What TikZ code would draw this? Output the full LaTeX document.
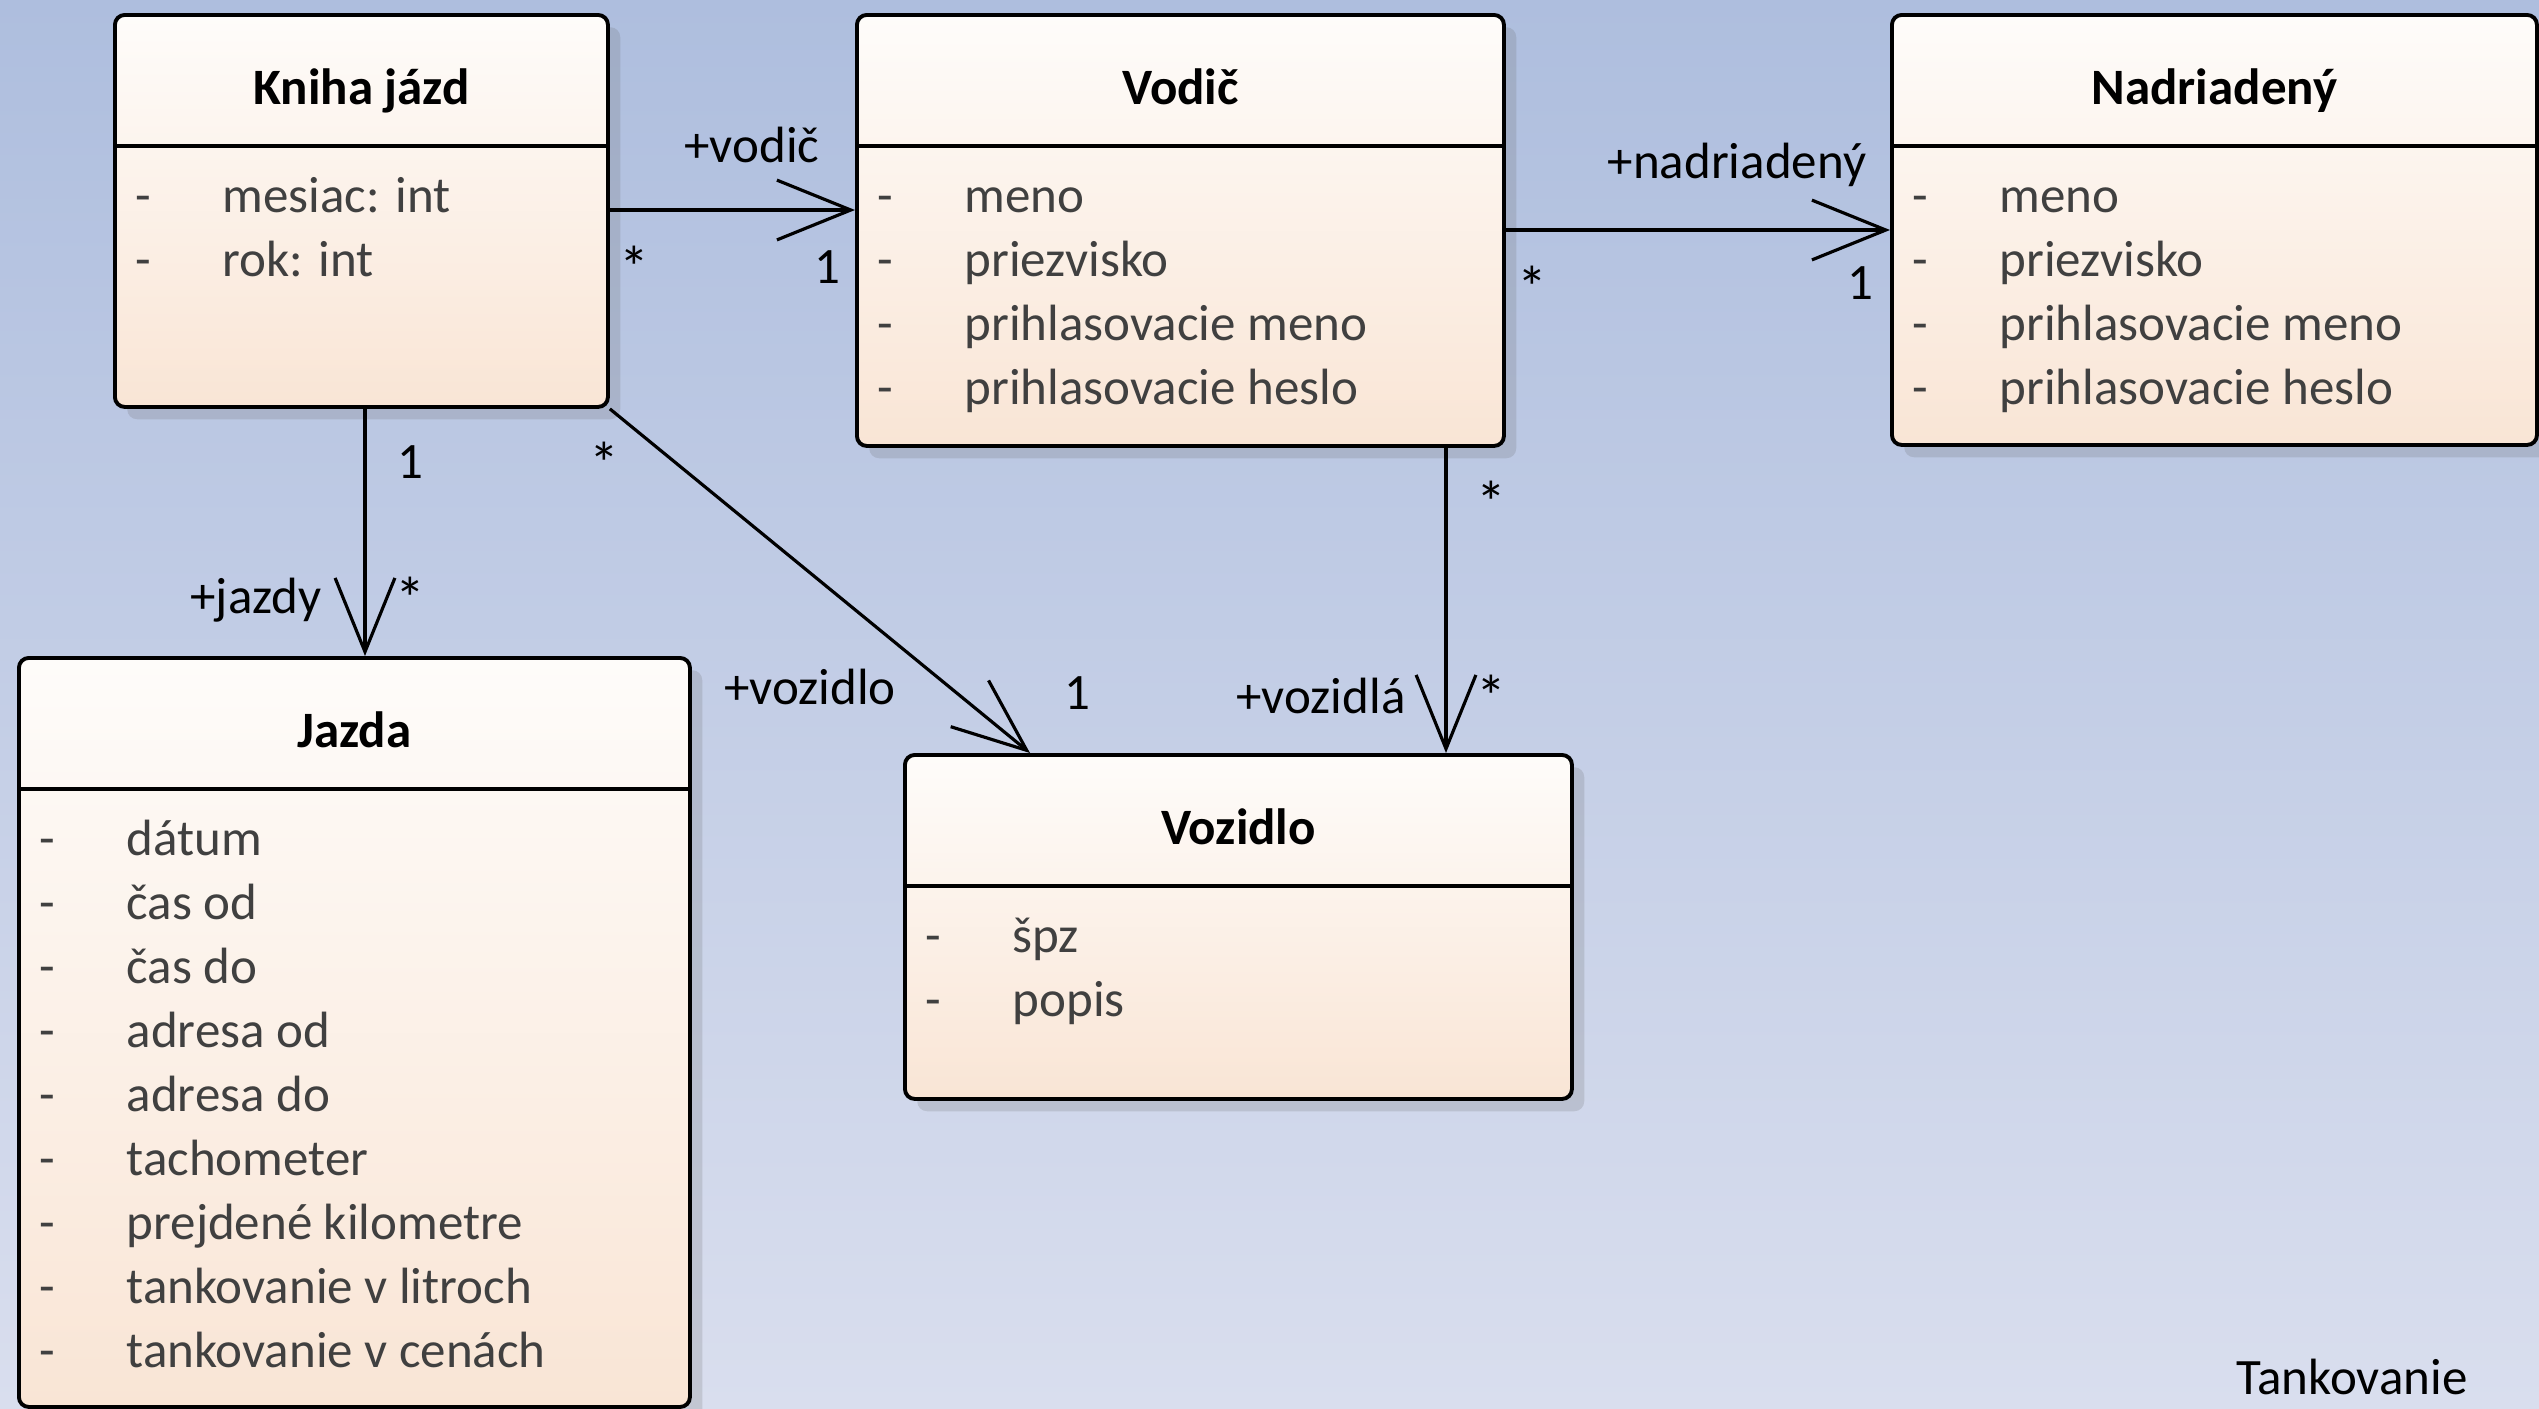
\documentclass[tikz,border=0pt]{standalone}
\usepackage{fontspec}
\setmainfont{Carlito}
\usetikzlibrary{arrows.meta,shadows,calc}
\definecolor{bgtop}{RGB}{174,190,222}
\definecolor{bgbot}{RGB}{217,222,238}
\definecolor{boxtop}{RGB}{254,252,250}
\definecolor{boxbot}{RGB}{249,229,213}
\definecolor{attrgray}{RGB}{64,64,64}
\tikzset{
  x=0.01cm, y=-0.01cm,
  classbox/.style={draw=black, line width=1.1pt, rounded corners=2.8pt,
    top color=boxtop, bottom color=boxbot, inner sep=0pt, anchor=north west,
    drop shadow={shadow xshift=3.5pt, shadow yshift=-3.5pt, opacity=0.2, fill=black!60}},
  titletext/.style={font=\fontsize{14.5}{17}\selectfont\bfseries, text=black, anchor=base, inner sep=0pt},
  attrtext/.style={font=\fontsize{14.5}{17}\selectfont, text=attrgray, anchor=base west, inner sep=0pt},
  dashtext/.style={font=\fontsize{14.5}{17}\selectfont, text=attrgray, anchor=base, inner sep=0pt},
  assoc/.style={line width=0.9pt, -{Straight Barb[length=21pt,width=17pt,line width=0.9pt]}},
  rolelabel/.style={font=\fontsize{14.5}{17}\selectfont, text=black, inner sep=0pt},
  starlabel/.style={font=\fontsize{17}{19}\selectfont, text=black, inner sep=0pt, yshift=-2.8pt},
}
\newcommand\umlclass[7]{%
  \node[classbox, minimum width=#4*0.01cm, minimum height=#5*0.01cm] (#1) at (#2,#3) {};
  \draw[line width=1.1pt] ($(#1.north west)+(0,133)$) coordinate (#1-dl) -- ($(#1.north east)+(0,133)$) coordinate (#1-dr);
  \node[titletext] (#1-title) at ($(#1.north)+(0,91)$) {#6};
  \foreach \a [count=\i] in {#7} {
    \node[dashtext] (#1-d\i) at ($(#1.north west)+(30,{199+64*(\i-1)})$) {-};
    \node[attrtext] (#1-a\i) at ($(#1.north west)+(109,{199+64*(\i-1)})$) {\a};
  }%
}
\begin{document}
\begin{tikzpicture}
\useasboundingbox (0,0) rectangle (2539,1408);
\fill[top color=bgtop, bottom color=bgbot] (0,0) rectangle (2539,1408);

\umlclass{kniha}{113}{13}{493}{392}{Kniha jázd}{mesiac: int, rok: int}
\umlclass{vodic}{855}{13}{647}{431}{Vodič}{meno, priezvisko, prihlasovacie meno, prihlasovacie heslo}
\umlclass{nadr}{1890}{13}{645}{430}{Nadriadený}{meno, priezvisko, prihlasovacie meno, prihlasovacie heslo}
\umlclass{jazda}{17}{656}{671}{749}{Jazda}{dátum, čas od, čas do, adresa od, adresa do, tachometer, prejdené kilometre, tankovanie v litroch, tankovanie v cenách}
\umlclass{vozidlo}{903}{753}{667}{344}{Vozidlo}{špz, popis}

% connectors
\draw[assoc] ($(kniha.north east)+(0,197)$) -- ($(vodic.north west)+(0,197)$);
\draw[assoc] ($(vodic.north east)+(0,217)$) -- ($(nadr.north west)+(0,217)$);
\draw[assoc] ($(kniha.south west)+(252,0)$) coordinate (kj) -- (kj |- jazda.north);
\draw[assoc] (kniha.south east) -- ($(vozidlo.north west)+(127,0)$);
\draw[assoc] ($(vodic.south west)+(591,0)$) coordinate (vv) -- (vv |- vozidlo.north);

% labels
\node[rolelabel] (l1) at (752,145) {+vodič};
\node[rolelabel] (l2) at (827,267) {1};
\node[starlabel] (l3) at (634,257) {*};
\node[rolelabel] (l4) at (1737,165) {+nadriadený};
\node[rolelabel] (l5) at (1860,283) {1};
\node[starlabel] (l6) at (1532,277) {*};
\node[rolelabel] (l7) at (410,462) {1};
\node[rolelabel] (l8) at (256,600) {+jazdy};
\node[starlabel] (l9) at (410,588) {*};
\node[starlabel] (l10) at (604,453) {*};
\node[rolelabel] (l11) at (810,687) {+vozidlo};
\node[rolelabel] (l12) at (1077,693) {1};
\node[starlabel] (l13) at (1491,492) {*};
\node[rolelabel] (l14) at (1321,696) {+vozidlá};
\node[starlabel] (l15) at (1491,686) {*};
\node[rolelabel] (tank) at (2352,1377) {Tankovanie};
\end{tikzpicture}
\end{document}
